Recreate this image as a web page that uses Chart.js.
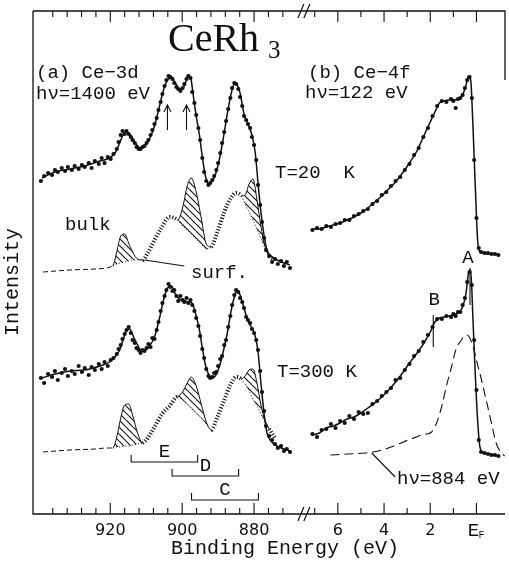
<!DOCTYPE html>
<html>
<head>
<meta charset="utf-8">
<title>CeRh3 Ce-3d / Ce-4f</title>
<script src="https://cdn.jsdelivr.net/npm/chart.js@4.4.1/dist/chart.umd.min.js"></script>
<style>
  html, body { margin: 0; padding: 0; background: #fff; }
  #wrap { width: 509px; height: 563px; }
</style>
</head>
<body>
<div id="wrap"><canvas id="chart" width="509" height="563"></canvas></div>
<script>
// binding energies in eV, intensities in arbitrary units

// (a) Ce-3d, fitted curves
const ce3dFitBE = [939.0, 935.4, 931.2, 927.1, 922.9, 920.2, 918.5, 917.4, 916.3, 915.5, 914.6, 913.5, 912.4, 911.3, 910.2, 909.1, 907.7, 906.3, 905.2, 904.1, 903.0, 901.9, 900.8, 899.9, 899.1, 898.3, 897.7, 896.9, 896.1, 895.2, 894.4, 893.6, 892.7, 891.9, 890.8, 889.7, 888.6, 887.5, 886.4, 885.5, 884.7, 883.9, 882.8, 881.7, 880.6, 879.7, 878.9, 878.1, 877.2, 876.4, 875.3, 873.6, 871.7, 870.0];
const ce3dFit20K = [336, 342, 345, 348, 353, 356, 362, 371, 380, 382, 380, 374, 368, 366, 369, 375, 388, 408, 424, 434, 436, 431, 425, 425, 431, 438, 437, 418, 398, 379, 357, 339, 330, 332, 339, 354, 375, 399, 420, 430, 429, 421, 400, 390, 379, 362, 331, 302, 278, 264, 258, 254, 251, 249];
const ce3dFit300K = [136, 140, 143, 144, 148, 152, 158, 164, 176, 183, 185, 177, 169, 163, 164, 168, 177, 196, 214, 226, 228, 220, 215, 214, 213, 212, 212, 208, 198, 184, 166, 150, 140, 136, 138, 147, 162, 180, 203, 217, 224, 219, 206, 193, 186, 178, 162, 131, 100, 81, 73, 68, 65, 63];

// (a) Ce-3d, measured points
const ce3dDotBE = [939.3, 938.4, 937.3, 936.2, 935.4, 934.6, 933.5, 932.6, 931.8, 930.7, 929.9, 928.8, 927.9, 927.1, 926.0, 925.2, 924.3, 923.2, 922.4, 921.6, 920.7, 919.9, 919.1, 918.2, 917.7, 917.1, 916.6, 916.0, 915.5, 914.9, 914.3, 913.8, 913.2, 912.7, 912.1, 911.6, 911.0, 910.5, 909.9, 909.4, 908.8, 908.3, 907.7, 907.1, 906.6, 906.0, 905.5, 904.9, 904.4, 903.8, 903.3, 902.7, 902.2, 901.6, 901.1, 900.5, 899.9, 899.4, 898.8, 898.3, 897.7, 897.2, 896.6, 896.1, 895.5, 895.0, 894.4, 893.9, 893.3, 892.7, 892.2, 891.6, 891.1, 890.5, 890.0, 889.4, 888.9, 888.3, 887.8, 887.2, 886.6, 886.1, 885.5, 885.0, 884.4, 883.9, 883.3, 882.8, 882.2, 881.7, 881.1, 880.6, 880.0, 879.4, 878.9, 878.3, 877.8, 877.2, 876.7, 875.8, 875.0, 874.2, 873.4, 872.5, 871.7, 870.9, 870.0];
const ce3dDots20K = [333, 338, 341, 339, 344, 342, 346, 343, 347, 344, 348, 345, 349, 347, 351, 346, 353, 350, 356, 351, 357, 355, 360, 365, 372, 379, 383, 380, 383, 380, 377, 374, 371, 367, 365, 365, 367, 368, 371, 374, 379, 384, 390, 396, 404, 412, 420, 428, 434, 438, 437, 435, 431, 427, 425, 423, 426, 430, 435, 438, 436, 422, 411, 399, 386, 374, 356, 342, 333, 329, 331, 334, 338, 344, 351, 361, 371, 382, 393, 405, 416, 426, 431, 430, 425, 417, 408, 398, 394, 390, 386, 377, 369, 354, 329, 309, 292, 276, 264, 258, 252, 255, 250, 253, 248, 252, 246];
const ce3dDots300K = [136, 131, 140, 137, 143, 134, 141, 145, 138, 143, 140, 148, 142, 146, 139, 147, 144, 150, 145, 152, 148, 154, 156, 160, 165, 169, 175, 180, 184, 187, 181, 174, 171, 166, 164, 161, 164, 163, 166, 170, 167, 176, 175, 184, 192, 203, 211, 218, 224, 230, 227, 223, 224, 218, 213, 218, 214, 212, 216, 211, 214, 209, 203, 196, 188, 178, 165, 156, 145, 138, 136, 137, 141, 142, 148, 155, 158, 169, 174, 187, 198, 209, 219, 224, 222, 216, 212, 206, 197, 194, 191, 185, 181, 174, 164, 143, 122, 103, 88, 78, 74, 70, 66, 68, 63, 65, 62];

// (a) Ce-3d, decomposition: lower component and total envelope
const ce3dCompBE = [938.7, 931.2, 924.3, 921.0, 919.3, 918.2, 917.1, 916.0, 914.9, 913.8, 912.4, 911.0, 909.6, 907.7, 905.8, 903.5, 901.3, 899.9, 898.6, 897.5, 896.1, 894.7, 893.3, 891.9, 890.2, 888.3, 886.6, 885.0, 883.6, 882.5, 881.4, 880.3, 879.2, 878.1, 877.0, 875.8, 874.2];
const lower20K = [242, 244, 245, 246, 248, 250, 251, 252, 253, 254, 254, 254, 261, 274, 286, 297, 294, 288, 284, 280, 275, 270, 265, 267, 282, 302, 315, 321, 318, 310, 302, 294, 285, 276, 266, 258, 255];
const total20K = [242, 244, 245, 246, 248, 262, 278, 280, 271, 262, 255, 254, 261, 274, 286, 297, 294, 306, 328, 336, 322, 296, 270, 267, 282, 302, 315, 321, 318, 319, 330, 335, 314, 288, 268, 258, 255];
const lower300K = [62, 64, 65, 66, 66, 67, 67, 68, 68, 69, 70, 71, 76, 87, 99, 108, 117, 114, 110, 106, 101, 96, 90, 84, 97, 114, 129, 137, 135, 130, 123, 115, 108, 100, 92, 85, 76];
const total300K = [62, 64, 65, 66, 66, 77, 96, 109, 110, 99, 81, 71, 76, 87, 99, 108, 117, 122, 131, 137, 128, 110, 92, 84, 97, 114, 129, 137, 135, 138, 144, 145, 131, 109, 94, 85, 76];

// (b) Ce-4f
const ce4fFitBE = [7.1, 6.8, 6.5, 6.2, 5.9, 5.6, 5.3, 5.0, 4.7, 4.4, 4.1, 3.8, 3.5, 3.2, 2.9, 2.6, 2.3, 2.0, 1.8, 1.6, 1.4, 1.2, 1.0, 0.8, 0.6, 0.45, 0.35, 0.25, 0.15, 0.05, -0.05, -0.15, -0.3, -0.5, -0.75, -0.95];
const ce4fFit20K = [285, 285, 287, 289, 291, 294, 297, 301, 306, 312, 318, 325, 332, 341, 351, 362, 377, 392, 402, 411, 413, 414, 414, 415, 419, 429, 438, 434, 387, 327, 274, 262, 261, 260, 260, 259];
const ce4fFit300K = [79, 81, 86, 88, 91, 95, 97, 101, 106, 111, 117, 124, 132, 141, 151, 160, 170, 182, 192, 196, 197, 198, 199, 201, 207, 221, 240, 244, 194, 139, 94, 67, 61, 60, 59, 58];
const ce4fDotBE = [7.1, 6.9, 6.7, 6.5, 6.3, 6.1, 5.9, 5.7, 5.5, 5.3, 5.1, 4.9, 4.7, 4.5, 4.3, 4.1, 3.9, 3.7, 3.5, 3.3, 3.1, 2.9, 2.7, 2.5, 2.3, 2.1, 1.9, 1.7, 1.5, 1.3, 1.1, 1.0, 0.9, 0.8, 0.7, 0.6, 0.5, 0.4, 0.3, 0.2, 0.1, 0.0, -0.1, -0.2, -0.35, -0.5, -0.65, -0.8, -0.95];
const ce4fDots20K = [284, 286, 285, 288, 287, 290, 291, 294, 294, 298, 300, 303, 305, 310, 313, 319, 322, 328, 333, 337, 344, 350, 359, 366, 377, 386, 398, 408, 413, 412, 415, 413, 406, 415, 416, 419, 426, 434, 437, 416, 354, 296, 266, 262, 261, 261, 260, 260, 259];
const ce4fDots300K = [80, 77, 84, 85, 90, 86, 93, 91, 98, 95, 102, 100, 101, 110, 113, 118, 122, 126, 134, 136, 144, 150, 158, 163, 172, 179, 187, 195, 195, 198, 197, 200, 198, 202, 202, 209, 216, 232, 242, 229, 174, 124, 74, 62, 61, 60, 59, 59, 58];
const hv884BE = [6.32, 5.53, 4.81, 4.24, 3.81, 3.38, 2.95, 2.60, 2.37, 2.17, 1.94, 1.74, 1.51, 1.31, 1.08, 0.88, 0.65, 0.53, 0.43, 0.31, 0.14, -0.03, -0.22, -0.42, -0.65, -0.85, -1.08, -1.22];
const hv884 = [59, 60, 61, 63, 66, 70, 74, 77, 79, 80, 82, 90, 107, 127, 147, 165, 174, 178, 179, 177, 167, 151, 134, 114, 91, 71, 61, 58];

// axis ticks
const ce3dTicks = [936, 932, 928, 924, 920, 916, 912, 908, 904, 900, 896, 892, 888, 884, 880, 876, 872];
const ce3dLabels = [920, 900, 880];
const ce4fTicks = [7, 6, 5, 4, 3, 2, 1, 0];
const ce4fLabels = [6, 4, 2];

// annotations
const arrowBE = [904.1, 898.8];
const bracketNames = ['E', 'D', 'C'];
const bracketFrom = [914.2, 902.8, 897.4];
const bracketTo = [895.7, 884.3, 878.8];
const bracketLevel = [52, 38, 14];
const markerNames = ['A', 'B'];
const markerBE = [0.28, 1.87];

const ink = '#111';
const mono = 'Liberation Mono';

// one x axis for both panels: left panel in eV below 880, right panel stretched
function toU(be, panel) {
  return panel === 'a' ? 880 - be : 61.86 - 6.427 * be;
}
const breakU = 13.85;

function points(beArr, vals, panel) {
  return beArr.map((b, i) => ({ x: toU(b, panel), y: vals[i] }));
}

function hatchPattern() {
  const c = document.createElement('canvas');
  c.width = c.height = 7;
  const g = c.getContext('2d');
  g.strokeStyle = ink;
  g.lineWidth = 1.1;
  g.beginPath();
  [-7, 0, 7].forEach(o => { g.moveTo(o, 0); g.lineTo(o + 7, 7); });
  g.stroke();
  return g.createPattern(c, 'repeat');
}

function componentSets(lower, total) {
  const raised = i => total[i] - lower[i] > 0.5;
  const kind = ctx => {
    const a = ctx.p0DataIndex, b = ctx.p1DataIndex;
    if (raised(a) || raised(b)) return 'under';
    return ce3dCompBE[b] >= 919 ? 'base' : 'fringe';
  };
  return [{
    data: points(ce3dCompBE, total, 'a'),
    borderWidth: 1,
    backgroundColor: hatchPattern(),
    fill: '+1',
    segment: { borderColor: ctx => kind(ctx) === 'under' ? ink : 'rgba(0,0,0,0)' }
  }, {
    data: points(ce3dCompBE, lower, 'a'),
    fill: false,
    segment: {
      borderDash: ctx => ({ under: [1, 2.2], base: [5, 3], fringe: [1.1, 1.9] })[kind(ctx)],
      borderWidth: ctx => kind(ctx) === 'fringe' ? 4 : 1
    }
  }];
}

function line(beArr, vals, panel) {
  return { data: points(beArr, vals, panel), borderWidth: 1.5 };
}
function dots(beArr, vals, panel) {
  return { data: points(beArr, vals, panel), showLine: false, pointRadius: 2.1 };
}

const tickU = ce3dLabels.map(v => toU(v, 'a')).concat(ce4fLabels.map(v => toU(v, 'b')));
const tickText = ce3dLabels.concat(ce4fLabels).map(String);

const decorations = {
  id: 'decorations',
  afterDraw(chart) {
    const ctx = chart.ctx;
    const xs = chart.scales.x, ys = chart.scales.y;
    const { left, right, top, bottom } = chart.chartArea;
    const X = (be, p) => xs.getPixelForValue(toU(be, p));
    const Y = v => ys.getPixelForValue(v);
    ctx.save();
    ctx.strokeStyle = ink;
    ctx.fillStyle = ink;
    ctx.lineWidth = 1.3;

    // frame (right edge only partly visible in the original)
    ctx.beginPath();
    ctx.moveTo(left, top); ctx.lineTo(left, bottom); ctx.lineTo(right, bottom);
    ctx.moveTo(left, top); ctx.lineTo(right, top); ctx.lineTo(right, top + 69);
    ctx.stroke();

    // inward ticks, top and bottom
    ctx.lineWidth = 1.1;
    ctx.beginPath();
    const tick = (x, major) => {
      const len = major ? 11 : 6;
      ctx.moveTo(x, bottom); ctx.lineTo(x, bottom - len);
      ctx.moveTo(x, top); ctx.lineTo(x, top + len);
    };
    ce3dTicks.forEach(v => tick(X(v, 'a'), v % 20 === 0));
    ce4fTicks.forEach(v => tick(X(v, 'b'), v % 2 === 0));
    ctx.stroke();

    // axis break marks
    const xb = xs.getPixelForValue(breakU);
    ctx.lineWidth = 1.2;
    ctx.beginPath();
    [bottom, top].forEach(y => {
      [-3, 3].forEach(d => {
        ctx.moveTo(xb + d - 3, y + 7);
        ctx.lineTo(xb + d + 3, y - 7);
      });
    });
    ctx.stroke();

    // arrows over the 3d(3/2) doublet
    ctx.lineWidth = 1.1;
    ctx.beginPath();
    arrowBE.forEach(be => {
      const x = X(be, 'a'), y0 = Y(384), y1 = Y(409);
      ctx.moveTo(x, y0); ctx.lineTo(x, y1);
      ctx.moveTo(x - 3.5, y1 + 7); ctx.lineTo(x, y1); ctx.lineTo(x + 3.5, y1 + 7);
    });
    ctx.stroke();

    // E, D, C brackets
    ctx.beginPath();
    bracketNames.forEach((n, i) => {
      const x0 = X(bracketFrom[i], 'a'), x1 = X(bracketTo[i], 'a');
      const y = Y(bracketLevel[i]);
      ctx.moveTo(x0, y - 7); ctx.lineTo(x0, y); ctx.lineTo(x1, y); ctx.lineTo(x1, y - 7);
    });
    // A and B markers
    ctx.moveTo(X(markerBE[0], 'b'), Y(246)); ctx.lineTo(X(markerBE[0], 'b'), Y(209));
    ctx.moveTo(X(markerBE[1], 'b'), Y(199)); ctx.lineTo(X(markerBE[1], 'b'), Y(167));
    // leaders
    ctx.moveTo(X(910.5, 'a'), Y(254)); ctx.lineTo(X(899.4, 'a'), Y(248));
    ctx.moveTo(X(4.53, 'b'), Y(61)); ctx.lineTo(X(3.52, 'b'), Y(37));
    ctx.stroke();

    // text
    ctx.textBaseline = 'alphabetic';
    ctx.font = '40px "Liberation Serif"';
    ctx.fillText('CeRh', 168, 51);
    ctx.font = '25px "Liberation Serif"';
    ctx.fillText('3', 268, 58);

    ctx.font = `19px "${mono}"`;
    ctx.fillText('(a) Ce\u22123d', 36, 78);
    ctx.fillText('h\u03bd=1400 eV', 36, 99);
    ctx.fillText('(b) Ce\u22124f', 308, 78);
    ctx.fillText('h\u03bd=122 eV', 305, 98);
    ctx.fillText('T=20  K', 275, 178);
    ctx.fillText('T=300 K', 277, 377);
    ctx.fillText('bulk', 65, 230);
    ctx.fillText('surf.', 191, 278);
    ctx.fillText('h\u03bd=884 eV', 397, 484);

    ctx.textAlign = 'center';
    bracketNames.forEach((n, i) => {
      const xm = (X(bracketFrom[i], 'a') + X(bracketTo[i], 'a')) / 2;
      ctx.fillText(n, xm, Y(bracketLevel[i]) - 5);
    });
    ctx.fillText(markerNames[0], X(markerBE[0], 'b') - 2, Y(251));
    ctx.fillText(markerNames[1], X(markerBE[1], 'b') + 1, Y(209));

    // E_F tick label
    const xf = X(0, 'b');
    ctx.fillText('E', xf - 3, 536);
    ctx.font = `10px "${mono}"`;
    ctx.fillText('F', xf + 5, 538);

    ctx.font = `20px "${mono}"`;
    ctx.fillText('Binding Energy (eV)', 285, 554);
    ctx.translate(18, 282);
    ctx.rotate(-Math.PI / 2);
    ctx.fillText('Intensity', 0, 0);
    ctx.restore();
  }
};

Chart.defaults.font.family = 'DejaVu Sans';

new Chart(document.getElementById('chart'), {
  type: 'line',
  data: {
    datasets: [
      line(ce3dFitBE, ce3dFit20K, 'a'),
      dots(ce3dDotBE, ce3dDots20K, 'a'),
      line(ce3dFitBE, ce3dFit300K, 'a'),
      dots(ce3dDotBE, ce3dDots300K, 'a'),
      line(ce4fFitBE, ce4fFit20K, 'b'),
      dots(ce4fDotBE, ce4fDots20K, 'b'),
      line(ce4fFitBE, ce4fFit300K, 'b'),
      dots(ce4fDotBE, ce4fDots300K, 'b'),
      { data: points(hv884BE, hv884, 'b'), borderWidth: 1.1, borderDash: [9, 5] },
      ...componentSets(lower20K, total20K),
      ...componentSets(lower300K, total300K)
    ]
  },
  options: {
    responsive: false,
    animation: false,
    events: [],
    devicePixelRatio: 1,
    layout: { padding: { left: 33, right: 2, top: 11, bottom: 0 } },
    elements: {
      line: { borderColor: ink, cubicInterpolationMode: 'monotone', fill: false },
      point: { radius: 0, backgroundColor: ink, borderWidth: 0 }
    },
    plugins: { legend: { display: false }, tooltip: { enabled: false } },
    scales: {
      x: {
        type: 'linear',
        min: -61.5,
        max: 69.8,
        grid: { display: false, drawTicks: false },
        border: { display: false },
        afterBuildTicks: scale => { scale.ticks = tickU.map(v => ({ value: v })); },
        afterFit: scale => { scale.height = 49; },
        ticks: {
          autoSkip: false,
          maxRotation: 0,
          padding: 7,
          color: ink,
          font: { size: 16 },
          callback: (value, index) => tickText[index]
        }
      },
      y: { display: false, min: 0, max: 503 }
    }
  },
  plugins: [decorations]
});
</script>
</body>
</html>
